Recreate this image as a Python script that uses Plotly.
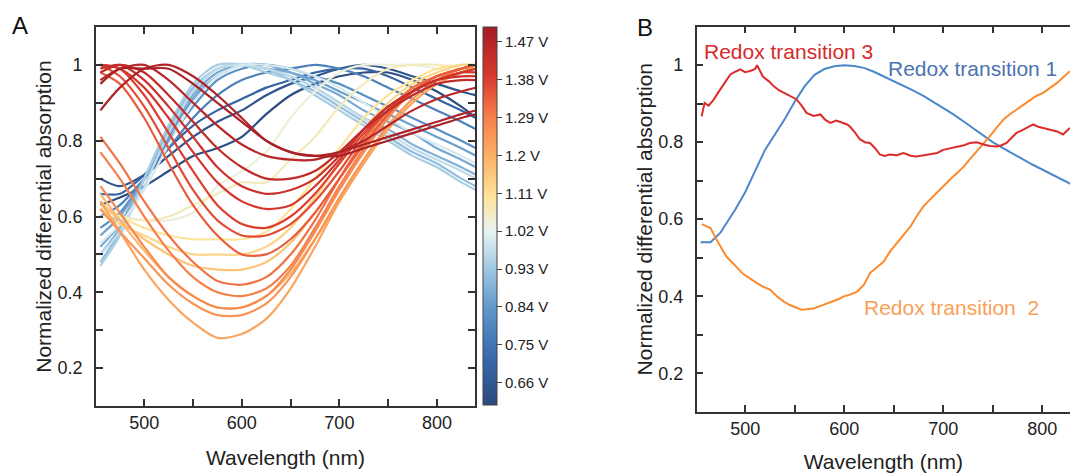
import plotly.graph_objects as go
from plotly.colors import sample_colorscale

# ---------------- Panel A data ----------------
wavelength_a = [455, 475, 500, 525, 550, 575, 600, 625, 650, 675, 700, 725, 750, 775, 800, 825, 840]

voltages_a = [0.62, 0.65, 0.70, 0.78, 0.82, 0.85, 0.87, 0.89, 0.91, 0.94, 0.97, 1.00,
              1.04, 1.07, 1.10, 1.13, 1.16,
              1.19, 1.22, 1.25, 1.27, 1.29, 1.31,
              1.34, 1.36, 1.38, 1.40, 1.42, 1.44, 1.46, 1.48, 1.49]

b01 = [0.63, 0.65, 0.68, 0.72, 0.76, 0.78, 0.81, 0.87, 0.92, 0.95, 0.97, 0.98, 0.98, 0.96, 0.93, 0.89, 0.86]
b02 = [0.70, 0.68, 0.71, 0.76, 0.81, 0.85, 0.88, 0.92, 0.95, 0.97, 0.99, 1.00, 0.99, 0.97, 0.95, 0.93, 0.92]
b03 = [0.66, 0.66, 0.71, 0.78, 0.84, 0.88, 0.91, 0.94, 0.96, 0.98, 0.99, 0.99, 0.97, 0.94, 0.91, 0.88, 0.86]
b04 = [0.60, 0.63, 0.70, 0.78, 0.86, 0.92, 0.96, 0.98, 0.99, 1.00, 0.99, 0.97, 0.94, 0.91, 0.88, 0.85, 0.83]
b05 = [0.57, 0.61, 0.70, 0.80, 0.89, 0.96, 0.99, 1.00, 0.99, 0.97, 0.95, 0.92, 0.89, 0.86, 0.83, 0.80, 0.78]
b06 = [0.55, 0.60, 0.70, 0.81, 0.91, 0.97, 1.00, 1.00, 0.98, 0.96, 0.93, 0.90, 0.87, 0.84, 0.81, 0.78, 0.76]
b07 = [0.52, 0.58, 0.70, 0.82, 0.92, 0.98, 1.00, 0.99, 0.98, 0.95, 0.92, 0.88, 0.85, 0.82, 0.78, 0.75, 0.73]
b08 = [0.50, 0.57, 0.70, 0.83, 0.93, 0.99, 1.00, 0.99, 0.97, 0.94, 0.90, 0.86, 0.83, 0.79, 0.76, 0.73, 0.71]
b09 = [0.48, 0.56, 0.70, 0.84, 0.94, 0.99, 1.00, 0.99, 0.96, 0.93, 0.89, 0.85, 0.81, 0.77, 0.74, 0.70, 0.68]
b10 = [0.47, 0.55, 0.70, 0.84, 0.95, 1.00, 1.00, 0.98, 0.96, 0.92, 0.88, 0.84, 0.80, 0.76, 0.73, 0.69, 0.67]
b11 = [0.50, 0.56, 0.68, 0.82, 0.93, 0.99, 1.00, 0.99, 0.97, 0.94, 0.90, 0.86, 0.82, 0.78, 0.75, 0.72, 0.70]
b12 = [0.53, 0.58, 0.67, 0.79, 0.90, 0.97, 1.00, 1.00, 0.99, 0.97, 0.94, 0.90, 0.86, 0.82, 0.79, 0.76, 0.74]

y01 = [0.60, 0.60, 0.59, 0.59, 0.61, 0.68, 0.72, 0.77, 0.86, 0.93, 0.98, 1.00, 1.00, 1.00, 0.99, 0.98, 0.97]
y02 = [0.62, 0.60, 0.59, 0.60, 0.63, 0.66, 0.69, 0.69, 0.75, 0.81, 0.89, 0.95, 0.99, 1.00, 1.00, 0.99, 0.98]
y03 = [0.63, 0.60, 0.57, 0.55, 0.54, 0.54, 0.54, 0.56, 0.62, 0.70, 0.78, 0.86, 0.92, 0.96, 0.99, 1.00, 1.00]
y04 = [0.62, 0.58, 0.55, 0.52, 0.50, 0.50, 0.50, 0.52, 0.57, 0.65, 0.74, 0.83, 0.90, 0.95, 0.98, 1.00, 1.00]
y05 = [0.64, 0.59, 0.54, 0.50, 0.47, 0.46, 0.46, 0.48, 0.53, 0.61, 0.70, 0.80, 0.88, 0.94, 0.97, 0.99, 1.00]

o01 = [0.66, 0.59, 0.51, 0.44, 0.39, 0.36, 0.36, 0.39, 0.45, 0.54, 0.64, 0.74, 0.83, 0.90, 0.95, 0.98, 1.00]
o02 = [0.64, 0.56, 0.46, 0.38, 0.32, 0.28, 0.29, 0.33, 0.41, 0.52, 0.64, 0.74, 0.83, 0.90, 0.95, 0.98, 0.99]
o03 = [0.62, 0.56, 0.49, 0.42, 0.37, 0.34, 0.34, 0.37, 0.44, 0.54, 0.65, 0.75, 0.84, 0.91, 0.96, 0.99, 1.00]
o04 = [0.68, 0.61, 0.52, 0.44, 0.39, 0.36, 0.36, 0.39, 0.46, 0.56, 0.67, 0.77, 0.86, 0.93, 0.97, 0.99, 1.00]
o05 = [0.77, 0.70, 0.60, 0.51, 0.44, 0.40, 0.39, 0.41, 0.47, 0.57, 0.68, 0.78, 0.87, 0.93, 0.97, 0.99, 1.00]
o06 = [0.81, 0.74, 0.64, 0.55, 0.48, 0.43, 0.42, 0.44, 0.50, 0.59, 0.70, 0.80, 0.88, 0.94, 0.97, 0.99, 1.00]

r01 = [0.98, 0.95, 0.86, 0.74, 0.63, 0.55, 0.50, 0.50, 0.54, 0.61, 0.70, 0.79, 0.87, 0.93, 0.97, 0.99, 1.00]
r02 = [1.00, 0.97, 0.89, 0.78, 0.67, 0.59, 0.55, 0.55, 0.58, 0.64, 0.72, 0.81, 0.88, 0.93, 0.96, 0.98, 0.99]
r03 = [1.00, 0.99, 0.92, 0.82, 0.72, 0.63, 0.58, 0.57, 0.60, 0.66, 0.74, 0.82, 0.88, 0.93, 0.96, 0.98, 0.99]
r04 = [1.00, 0.99, 0.94, 0.86, 0.77, 0.69, 0.64, 0.62, 0.63, 0.68, 0.75, 0.83, 0.89, 0.93, 0.96, 0.98, 0.98]
r05 = [0.99, 1.00, 0.96, 0.89, 0.81, 0.73, 0.68, 0.66, 0.67, 0.70, 0.76, 0.83, 0.89, 0.93, 0.96, 0.97, 0.97]
r06 = [0.98, 1.00, 0.98, 0.92, 0.85, 0.78, 0.73, 0.70, 0.70, 0.72, 0.77, 0.83, 0.88, 0.92, 0.95, 0.96, 0.96]
r07 = [0.96, 0.99, 1.00, 0.96, 0.90, 0.84, 0.79, 0.76, 0.75, 0.75, 0.77, 0.80, 0.84, 0.88, 0.91, 0.93, 0.94]
r08 = [0.88, 0.94, 0.99, 1.00, 0.97, 0.92, 0.86, 0.80, 0.77, 0.76, 0.77, 0.79, 0.81, 0.83, 0.85, 0.87, 0.88]
r09 = [0.95, 0.99, 0.99, 0.99, 0.95, 0.90, 0.85, 0.80, 0.77, 0.76, 0.76, 0.78, 0.80, 0.82, 0.84, 0.86, 0.87]

spectra_a = [b01, b02, b03, b04, b05, b06, b07, b08, b09, b10, b11, b12,
             y01, y02, y03, y04, y05,
             o01, o02, o03, o04, o05, o06,
             r01, r02, r03, r04, r05, r06, r07, r08, r09]

cbar_tickvals = [0.66, 0.75, 0.84, 0.93, 1.02, 1.11, 1.2, 1.29, 1.38, 1.47]
cbar_ticktext = ["0.66 V", "0.75 V", "0.84 V", "0.93 V", "1.02 V", "1.11 V", "1.2 V", "1.29 V", "1.38 V", "1.47 V"]
v_min, v_max = 0.607, 1.505

# ---------------- Panel B data ----------------
wl_t1 = [455, 465, 475, 490, 500, 510, 520, 530, 540, 550, 560, 570, 580, 590, 600, 610, 620, 630,
         640, 650, 660, 670, 680, 690, 700, 710, 720, 730, 740, 750, 760, 770, 780, 790, 800, 810, 820, 830]
t1 = [0.54, 0.54, 0.565, 0.625, 0.67, 0.725, 0.78, 0.82, 0.86, 0.905, 0.945, 0.975, 0.99, 0.997, 1.0,
      0.998, 0.993, 0.983, 0.971, 0.958, 0.945, 0.934, 0.92, 0.904, 0.89, 0.873, 0.855, 0.837, 0.818,
      0.80, 0.785, 0.77, 0.755, 0.742, 0.729, 0.716, 0.703, 0.69]

wl_t2 = [456, 461, 465, 471, 476, 481, 486, 491, 497, 502, 507, 512, 518, 525, 532, 539, 545, 552, 557,
         562, 569, 576, 582, 589, 594, 599, 606, 613, 620, 626, 633, 640, 646, 653, 660, 667, 673, 680,
         687, 693, 700, 707, 714, 721, 727, 734, 741, 747, 754, 761, 767, 774, 781, 788, 794, 801, 808,
         815, 821, 828]
t2 = [0.587, 0.582, 0.577, 0.547, 0.525, 0.503, 0.49, 0.477, 0.46, 0.451, 0.442, 0.434, 0.425, 0.417,
      0.40, 0.386, 0.377, 0.369, 0.365, 0.366, 0.368, 0.375, 0.38, 0.386, 0.392, 0.399, 0.404, 0.412,
      0.43, 0.46, 0.475, 0.49, 0.515, 0.538, 0.56, 0.581, 0.607, 0.633, 0.652, 0.668, 0.685, 0.703,
      0.72, 0.737, 0.756, 0.776, 0.795, 0.815, 0.838, 0.859, 0.872, 0.885, 0.898, 0.911, 0.92, 0.928,
      0.94, 0.954, 0.968, 0.984]

wl_t3 = [456, 459, 463, 468, 473, 478, 485, 490, 495, 500, 505, 510, 512, 515, 518, 524, 529, 534, 539,
         545, 552, 557, 562, 569, 576, 581, 586, 592, 599, 603, 606, 611, 616, 621, 626, 631, 636, 641,
         646, 653, 660, 667, 673, 680, 687, 694, 700, 707, 714, 721, 727, 734, 741, 747, 754, 759, 764,
         769, 774, 779, 784, 788, 791, 796, 801, 808, 815, 821, 828]
t3 = [0.867, 0.902, 0.895, 0.91, 0.93, 0.95, 0.976, 0.983, 0.989, 0.982, 0.985, 0.99, 1.0, 0.985, 0.97,
      0.958, 0.945, 0.935, 0.928, 0.92, 0.911, 0.895, 0.876, 0.868, 0.872, 0.858, 0.85, 0.856, 0.85,
      0.846, 0.84, 0.825, 0.807, 0.80, 0.798, 0.785, 0.768, 0.764, 0.768, 0.766, 0.772, 0.765, 0.763,
      0.766, 0.768, 0.772, 0.78, 0.784, 0.789, 0.792, 0.798, 0.80, 0.794, 0.79, 0.789, 0.792, 0.798,
      0.81, 0.824, 0.83, 0.837, 0.842, 0.846, 0.84, 0.837, 0.832, 0.828, 0.82, 0.837]

# ---------------- Styling ----------------
colorscale = [[0.00, "#2b4a7e"], [0.12, "#3767a9"], [0.25, "#5d95c9"], [0.36, "#a0c8e2"],
              [0.46, "#e8f3f2"], [0.55, "#fde49a"], [0.66, "#fdb064"], [0.77, "#f57b48"],
              [0.87, "#d9392d"], [1.00, "#a31c27"]]

FONT = "Arial, Liberation Sans, sans-serif"
AX = "#333333"

fig = go.Figure()

for v, spec in zip(voltages_a, spectra_a):
    col = sample_colorscale(colorscale, [(v - v_min) / (v_max - v_min)])[0]
    fig.add_trace(go.Scatter(x=wavelength_a, y=spec, mode="lines",
                             line=dict(color=col, width=2.2, shape="spline", smoothing=0.8),
                             xaxis="x", yaxis="y", showlegend=False, hoverinfo="skip"))

# colorbar carrier
fig.add_trace(go.Scatter(x=[None], y=[None], mode="markers", xaxis="x", yaxis="y",
                         marker=dict(color=[v_min], colorscale=colorscale, cmin=v_min, cmax=v_max,
                                     showscale=True,
                                     colorbar=dict(x=0.4514, xanchor="left", y=0.5433, yanchor="middle",
                                                   len=0.799, lenmode="fraction", thickness=14,
                                                   outlinewidth=1, outlinecolor="#444",
                                                   tickvals=cbar_tickvals, ticktext=cbar_ticktext,
                                                   ticks="outside", ticklen=5, tickcolor="#444",
                                                   tickfont=dict(size=15, color="#222", family=FONT),
                                                   xpad=0, ypad=0)),
                         showlegend=False, hoverinfo="skip"))

fig.add_trace(go.Scatter(x=wl_t1, y=t1, mode="lines", line=dict(color="#4a88c8", width=2),
                         xaxis="x2", yaxis="y2", showlegend=False))
fig.add_trace(go.Scatter(x=wl_t2, y=t2, mode="lines", line=dict(color="#fd8a2c", width=2),
                         xaxis="x2", yaxis="y2", showlegend=False))
fig.add_trace(go.Scatter(x=wl_t3, y=t3, mode="lines", line=dict(color="#dc2b2b", width=2),
                         xaxis="x2", yaxis="y2", showlegend=False))

xt = [500, 550, 600, 650, 700, 750, 800]
xl = ["500", "", "600", "", "700", "", "800"]
yt = [0.2, 0.3, 0.4, 0.5, 0.6, 0.7, 0.8, 0.9, 1.0]
yl = ["0.2", "", "0.4", "", "0.6", "", "0.8", "", "1"]

def xax(domain, rng, anchor, mirror, standoff):
    return dict(domain=domain, range=rng, anchor=anchor, tickvals=xt, ticktext=xl,
                ticks="inside", ticklen=7, tickwidth=1.5, tickcolor=AX,
                showline=True, linecolor=AX, linewidth=1.5, mirror=mirror,
                showgrid=False, zeroline=False, automargin=False,
                tickfont=dict(size=18, color="#222", family=FONT), ticklabelstandoff=0,
                title=dict(text="Wavelength (nm)", font=dict(size=21, color="#222", family=FONT),
                           standoff=standoff))

def yax(domain, anchor, mirror):
    return dict(domain=domain, range=[0.1, 1.1], anchor=anchor, tickvals=yt, ticktext=yl,
                ticks="inside", ticklen=7, tickwidth=1.5, tickcolor=AX,
                showline=True, linecolor=AX, linewidth=1.5, mirror=mirror,
                showgrid=False, zeroline=False, automargin=False,
                tickfont=dict(size=18, color="#222", family=FONT), ticklabelstandoff=8,
                title=dict(text="Normalized differential absorption",
                           font=dict(size=21, color="#222", family=FONT), standoff=0))

fig.update_layout(
    width=1070, height=473, margin=dict(l=0, r=0, t=0, b=0),
    paper_bgcolor="white", plot_bgcolor="white", showlegend=False,
    font=dict(family=FONT, color="#222"),
    xaxis=xax([0.0897, 0.4439], [450.5, 839], "y", "ticks", 18),
    yaxis=yax([0.1416, 0.9429], "x", "ticks"),
    xaxis2=xax([0.6511, 1.0], [451, 828.1], "y2", "ticks", 16),
    yaxis2=yax([0.1296, 0.9436], "x2", False),
    annotations=[
        dict(text="A", x=20 / 1070, y=1 - 25 / 473, xref="paper", yref="paper", showarrow=False,
             font=dict(size=24, color="#111", family=FONT), xanchor="center", yanchor="middle"),
        dict(text="B", x=645 / 1070, y=1 - 27.5 / 473, xref="paper", yref="paper", showarrow=False,
             font=dict(size=24, color="#111", family=FONT), xanchor="center", yanchor="middle"),
        dict(text="Redox transition 3", x=456, y=1.036, xref="x2", yref="y2", showarrow=False,
             xanchor="left", yanchor="middle", font=dict(size=21, color="#d62a2a", family=FONT)),
        dict(text="Redox transition 1", x=642, y=0.991, xref="x2", yref="y2", showarrow=False,
             xanchor="left", yanchor="middle", font=dict(size=21, color="#4d72b2", family=FONT)),
        dict(text="Redox transition \u00a02", x=618, y=0.37, xref="x2", yref="y2", showarrow=False,
             xanchor="left", yanchor="middle", font=dict(size=21, color="#f9a058", family=FONT)),
    ],
)

fig.write_html("out.html")
